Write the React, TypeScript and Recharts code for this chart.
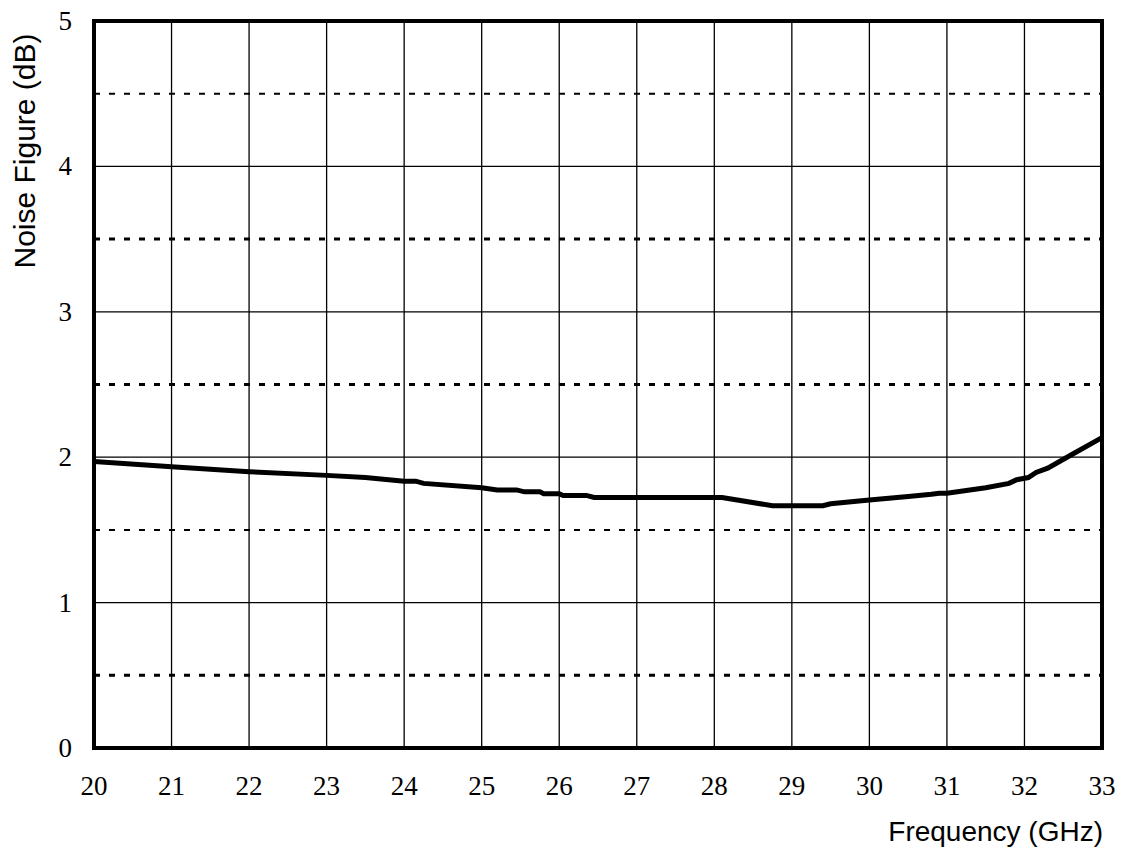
import {
  CartesianGrid,
  Line,
  LineChart,
  ReferenceArea,
  ReferenceLine,
  XAxis,
  YAxis,
} from 'recharts';

const FREQ_GHZ = [
  20, 21, 22, 23, 23.5, 24, 24.15, 24.25, 25, 25.2, 25.45, 25.55, 25.75, 25.8, 26, 26.05, 26.35,
  26.45, 28.1, 28.75, 29.4, 29.5, 30, 30.5, 30.8, 30.9, 31, 31.5, 31.8, 31.9, 32.05, 32.15, 32.3,
  32.6, 33,
];
const NOISE_FIGURE_DB = [
  1.97, 1.935, 1.9, 1.875, 1.86, 1.835, 1.835, 1.82, 1.79, 1.775, 1.775, 1.762, 1.762, 1.749,
  1.749, 1.737, 1.737, 1.723, 1.723, 1.666, 1.666, 1.68, 1.705, 1.73, 1.745, 1.752, 1.752, 1.79,
  1.82, 1.845, 1.86, 1.895, 1.925, 2.015, 2.135,
];
const X_TICKS = [20, 21, 22, 23, 24, 25, 26, 27, 28, 29, 30, 31, 32, 33];
const Y_TICKS = [0, 1, 2, 3, 4, 5];
const DOTTED_LEVELS = [0.5, 1.5, 2.5, 3.5, 4.5];
const HEAVY_DOTTED = [0.5, 2.5, 3.5];

const data = FREQ_GHZ.map((f, i) => ({ f, nf: NOISE_FIGURE_DB[i] }));

const SERIF = '"Liberation Serif", "Times New Roman", serif';
const SANS = '"Liberation Sans", Arial, sans-serif';

function XTick({ x, y, payload }: any) {
  return (
    <text x={x} y={y} dy={19} textAnchor="middle" fill="#000" fontSize={27} fontFamily={SERIF}>
      {payload.value}
    </text>
  );
}

function YTick({ x, y, payload }: any) {
  return (
    <text x={x} y={y} dy={9} textAnchor="end" fill="#000" fontSize={27} fontFamily={SERIF}>
      {payload.value}
    </text>
  );
}

function YTitle({ viewBox }: any) {
  const x = viewBox.x + 27;
  const y = viewBox.y + 130;
  return (
    <text
      x={x}
      y={y}
      transform={`rotate(-90, ${x}, ${y})`}
      textAnchor="middle"
      fill="#000"
      fontSize={30}
      fontFamily={SANS}
    >
      Noise Figure (dB)
    </text>
  );
}

function XTitle({ viewBox }: any) {
  return (
    <text
      x={viewBox.x + viewBox.width + 1}
      y={viewBox.y + 93}
      textAnchor="end"
      fill="#000"
      fontSize={28}
      fontFamily={SANS}
    >
      Frequency (GHz)
    </text>
  );
}

export default function App() {
  return (
    <LineChart
      width={1108}
      height={844}
      data={data}
      margin={{ top: 13, right: 14, left: 0, bottom: 8 }}
      style={{ overflow: 'visible' }}
    >
      <CartesianGrid stroke="#000" strokeWidth={1.3} />
      <XAxis
        dataKey="f"
        type="number"
        domain={[20, 33]}
        ticks={X_TICKS}
        interval={0}
        height={96}
        axisLine={false}
        tickLine={false}
        tickMargin={22}
        tick={<XTick />}
        label={<XTitle />}
      />
      <YAxis
        type="number"
        domain={[0, 5]}
        ticks={Y_TICKS}
        interval={0}
        width={86}
        axisLine={false}
        tickLine={false}
        tickMargin={16}
        tick={<YTick />}
        label={<YTitle />}
      />
      {DOTTED_LEVELS.map((v) => (
        <ReferenceLine
          key={v}
          y={v}
          stroke="#000"
          strokeWidth={HEAVY_DOTTED.includes(v) ? 3 : 2}
          strokeDasharray="6 9"
        />
      ))}
      <Line
        type="linear"
        dataKey="nf"
        stroke="#000"
        strokeWidth={5}
        dot={false}
        isAnimationActive={false}
      />
      <ReferenceArea
        x1={20}
        x2={33}
        y1={0}
        y2={5}
        fill="none"
        fillOpacity={0}
        stroke="#000"
        strokeWidth={4}
        ifOverflow="visible"
      />
    </LineChart>
  );
}
